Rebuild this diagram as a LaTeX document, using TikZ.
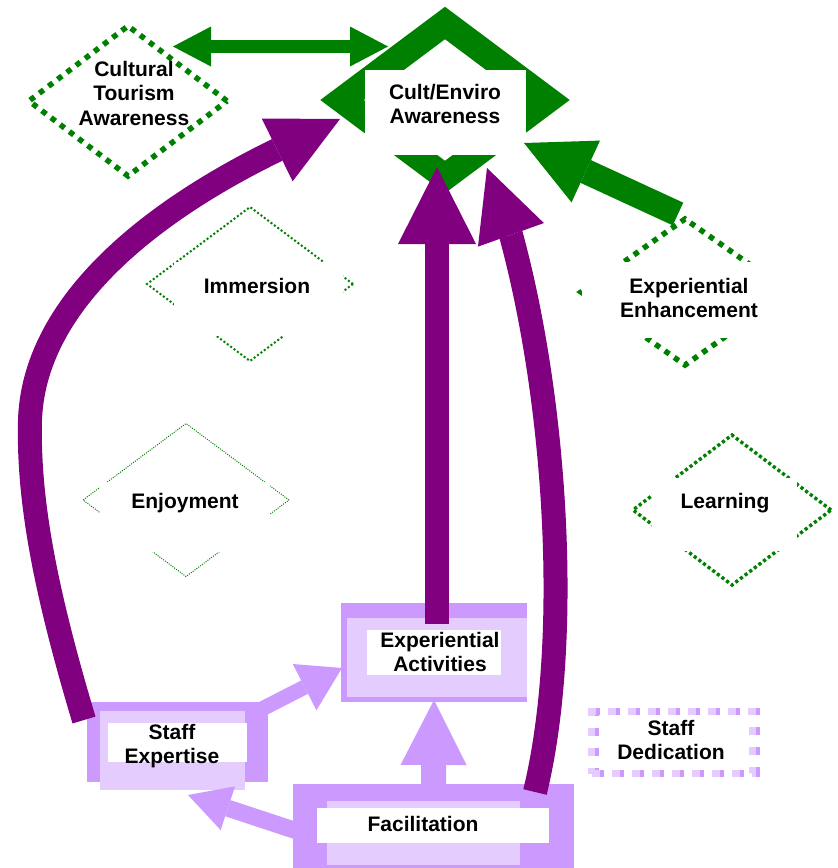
\documentclass[tikz,border=0pt]{standalone}
\usepackage{fontspec}
\setmainfont{Liberation Sans}
\usetikzlibrary{arrows.meta,shapes.geometric}
\definecolor{dgreen}{HTML}{008000}
\definecolor{dpurple}{HTML}{800080}
\definecolor{lavdark}{HTML}{CC99FF}
\definecolor{lavlight}{HTML}{E5CCFF}
\begin{document}
\begin{tikzpicture}[x=1pt,y=-1pt,
  dia/.style n args={2}{shape=diamond, draw=dgreen, inner sep=0pt, outer sep=0pt,
    minimum width=#1pt, minimum height=#2pt},
  box/.style n args={3}{fill=#1, inner sep=0pt, outer sep=0pt,
    minimum width=#2pt, minimum height=#3pt},
  txt/.style={font=\fontsize{21}{24.5}\selectfont\bfseries, align=center, inner sep=0pt},
  bigdots/.style={line width=5.5pt, dash pattern=on 5.5pt off 6pt},
  middots/.style={line width=3.4pt, dash pattern=on 3.2pt off 2.6pt},
  smalldots/.style={line width=2pt, dash pattern=on 2pt off 2.2pt},
  finedots/.style={line width=1pt, dash pattern=on 1pt off 1.3pt},
  fat/.style n args={4}{draw=#1, line width=#2pt,
    -{Triangle[length=#3pt, width=#4pt, line width=0pt]}},
  fatboth/.style n args={4}{draw=#1, line width=#2pt,
    {Triangle[length=#3pt, width=#4pt, line width=0pt]}-{Triangle[length=#3pt, width=#4pt, line width=0pt]}},
]
\useasboundingbox (0,0) rectangle (838,868);
\fill[white] (0,0) rectangle (838,868);

% diamonds
\node[dia={206}{154}, line width=26pt] (cea) at (445,100) {};
\node[dia={198}{150}, bigdots] (cta) at (128,101) {};
\node[dia={206}{154}, smalldots] (imm) at (250,284) {};
\node[dia={208}{146}, bigdots] (exe) at (685,292) {};
\node[dia={206}{153}, finedots] (enj) at (186,500) {};
\node[dia={198}{150}, middots] (lrn) at (732,510) {};

% label backgrounds on the diamonds
\node[box={white}{161}{85}] (ceaB) at (445.5,112.5) {};
\node[box={white}{169}{74}] (immB) at (258.5,299) {};
\node[box={white}{213}{76}] (exeB) at (688.5,300) {};
\node[box={white}{170}{70}] (enjB) at (185,517) {};
\node[box={white}{145}{73}] (lrnB) at (724.5,514.5) {};

% lavender boxes
\node[box={lavdark}{186}{99}] (ea) at (434,652.5) {};
\node[box={lavlight}{180}{79}] (eaIn) at (437,657.5) {};
\node[box={white}{134}{45}] (eaB) at (434,652.5) {};

\node[box={lavdark}{181}{80}] (se) at (177.5,742) {};
\node[box={lavlight}{145}{79}] (seIn) at (172.5,750.5) {};
\node[box={white}{139}{39}] (seB) at (177.5,742.5) {};

\node[box={lavdark}{281}{84}] (fac) at (433.5,826) {};
\node[box={lavlight}{193}{64}] (facIn) at (423.5,833) {};
\node[box={white}{232}{35}] (facB) at (433,825.5) {};

\node[draw=lavdark, line width=7pt, dash pattern=on 8pt off 12pt, inner sep=0pt, outer sep=0pt,
  minimum width=161pt, minimum height=62pt] (sdBack) at (676,742.5) {};
\node[draw=lavlight, line width=7pt, dash pattern=on 8pt off 12pt, inner sep=0pt, outer sep=0pt,
  minimum width=161pt, minimum height=62pt] (sd) at (672,742.5) {};

% texts
\node[txt] (ceaT) at (445,104) {Cult/Enviro\\Awareness};
\node[txt] (ctaT) at (134,93) {Cultural\\Tourism\\Awareness};
\node[txt] (immT) at (257,286) {Immersion};
\node[txt] (exeT) at (689,298) {Experiential\\Enhancement};
\node[txt] (enjT) at (185,503) {Enjoyment};
\node[txt] (lrnT) at (725,503) {Learning};
\node[txt] (eaT) at (440,652) {Experiential\\Activities};
\node[txt] (seT) at (172,746) {Staff\\Expertise};
\node[txt] (sdT) at (671,740) {Staff\\Dedication};
\node[txt] (facT) at (423,824) {Facilitation};

% connectors
\draw[fatboth={dgreen}{13}{38}{40}] ([xshift=-4.5pt,yshift=17pt]cta.north east)
  -- ([xshift=-5.5pt,yshift=15pt]cea.north west);
\draw[fat={dgreen}{25}{68}{68}] ([xshift=-7pt,yshift=5pt]exe.north)
  -- ([xshift=-2pt,yshift=-30.5pt]ceaB.east);

\draw[fat={dpurple}{24}{77}{78}] ([xshift=3pt,yshift=-21pt]ea.north)
  -- ([xshift=-8pt,yshift=10pt]cea.south);
\draw[fat={dpurple}{24}{70}{70}] ([xshift=-3pt,yshift=-18pt]se.north west)
  .. controls (45,590) and (28,500) .. (30,420)
  .. controls (35,280) and (201,187) .. (277,150)
  -- ([xshift=-2pt,yshift=-19pt]cea.west);
\draw[fat={dpurple}{24}{71}{70}] ([xshift=-39pt,yshift=-8pt]fac.north east)
  .. controls (572,640) and (556,400) .. (511,235)
  -- ([xshift=42pt,yshift=9pt]cea.south);

\draw[fat={lavdark}{15}{42}{52}] ([xshift=-12pt,yshift=-10pt]se.north east)
  -- ([xshift=1pt,yshift=-15.5pt]ea.west);
\draw[fat={lavdark}{25}{65}{66}] (fac.north) -- ([yshift=2pt]ea.south);
\draw[fat={lavdark}{17}{42}{46}] ([xshift=7pt,yshift=-6pt]fac.west)
  -- ([xshift=10.5pt,yshift=-13pt]se.south);
\end{tikzpicture}
\end{document}
